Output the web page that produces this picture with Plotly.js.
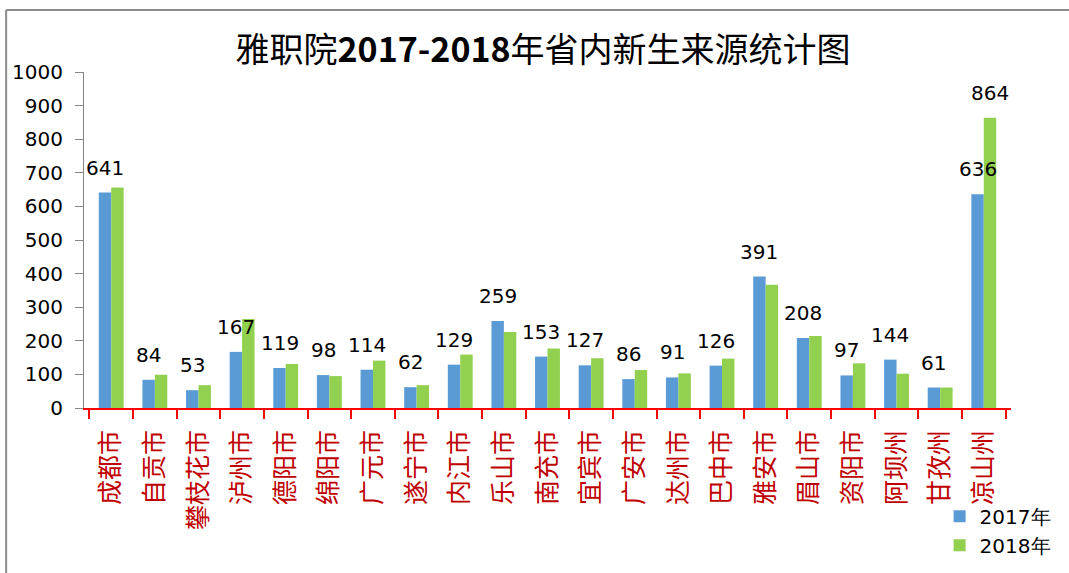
<!DOCTYPE html>
<html>
<head>
<meta charset="utf-8">
<script src="https://cdn.plot.ly/plotly-3.0.1.min.js"></script>
<style>html,body{margin:0;padding:0;background:#fff;}#chart{width:1069px;height:573px;}</style>
</head>
<body>
<div id="chart"></div>
<script>
const categories = ['成都市','自贡市','攀枝花市','泸州市','德阳市','绵阳市','广元市','遂宁市','内江市','乐山市','南充市','宜宾市','广安市','达州市','巴中市','雅安市','眉山市','资阳市','阿坝州','甘孜州','凉山州'];
const values2017 = [641,84,53,167,119,98,114,62,129,259,153,127,86,91,126,391,208,97,144,61,636];
const values2018 = [656,99,68,265,131,95,141,68,159,226,177,148,113,103,147,367,214,133,102,61,864];
const labelled2018 = ['凉山州'];
const seriesNames = ['2017年','2018年'];
const yTicks = [0,100,200,300,400,500,600,700,800,900,1000];

const bargap = 0.43;
const barOffset = (1 - bargap) / 4;
const numFont = 'DejaVu Sans, Liberation Sans, sans-serif';

const annotations = [];
categories.forEach((c, i) => {
  annotations.push({x: i - barOffset, y: values2017[i], xref: 'x', yref: 'y', text: String(values2017[i]),
    showarrow: false, yshift: 25, yanchor: 'middle', xanchor: 'center', font: {family: numFont, size: 20, color: '#000'}});
  if (labelled2018.includes(c)) {
    annotations.push({x: i + barOffset, y: values2018[i], xref: 'x', yref: 'y', text: String(values2018[i]),
      showarrow: false, yshift: 25, yanchor: 'middle', xanchor: 'center', font: {family: numFont, size: 20, color: '#000'}});
  }
});

const data = [
  {type: 'bar', name: seriesNames[0], x: categories, y: values2017, marker: {color: '#5B9BD5'}},
  {type: 'bar', name: seriesNames[1], x: categories, y: values2018, marker: {color: '#92D050'}}
];

const layout = {
  width: 1069, height: 573,
  margin: {l: 84, r: 58, t: 72, b: 165},
  paper_bgcolor: '#fff', plot_bgcolor: '#fff',
  barmode: 'group', bargap: bargap, bargroupgap: 0,
  title: {text: '雅职院<b>2017-2018</b>年省内新生来源统计图', x: 0.508, xanchor: 'center', y: 0.912, yanchor: 'middle', yref: 'container',
    font: {family: 'Noto Sans CJK SC, sans-serif', size: 34, color: '#000'}, automargin: false},
  xaxis: {type: 'category', tickson: 'boundaries', ticks: 'outside', ticklen: 9, tickwidth: 2, tickcolor: '#FF0000',
    showline: true, linecolor: '#FF0000', linewidth: 2, tickangle: -90, ticklabelstandoff: 10, automargin: false,
    tickfont: {family: 'Noto Sans CJK SC, sans-serif', size: 25, color: '#C00000'}, showgrid: false, zeroline: false, fixedrange: true},
  yaxis: {range: [0, 1000], tickvals: yTicks, ticks: 'outside', ticklen: 8, tickcolor: '#868686', tickwidth: 1, automargin: false,
    showline: true, linecolor: '#868686', linewidth: 1, showgrid: false, zeroline: false, ticklabelstandoff: 8,
    tickfont: {family: numFont, size: 20, color: '#000'}},
  legend: {x: 0.923, y: 0.133, xref: 'paper', yref: 'container', xanchor: 'left', yanchor: 'top', orientation: 'v', bgcolor: 'rgba(0,0,0,0)',
    font: {family: numFont, size: 20, color: '#000'}, itemwidth: 30, tracegroupgap: 0},
  annotations: annotations,
  shapes: [
    {type: 'line', xref: 'paper', yref: 'paper', x0: -0.084, x1: 1.2, y0: 1.1845, y1: 1.1845, line: {color: '#8C8C8C', width: 2}},
    {type: 'line', xref: 'paper', yref: 'paper', x0: -0.084, x1: -0.084, y0: 1.1845, y1: -0.6, line: {color: '#8C8C8C', width: 2}}
  ],
  showlegend: true
};

Plotly.newPlot('chart', data, layout, {displayModeBar: false, staticPlot: true});
</script>
</body>
</html>
